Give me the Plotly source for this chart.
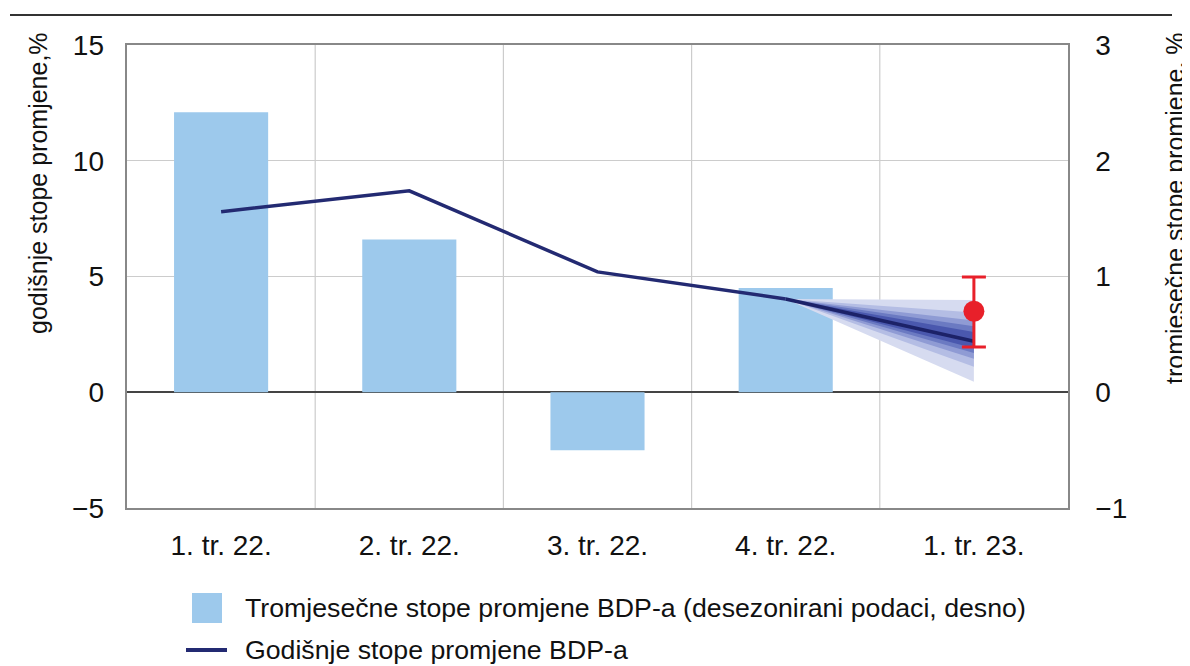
import plotly.graph_objects as go

categories = ["1. tr. 22.", "2. tr. 22.", "3. tr. 22.", "4. tr. 22.", "1. tr. 23."]
quarterly = [2.42, 1.32, -0.50, 0.90, None]          # right axis
annual = [7.8, 8.7, 5.2, 4.03]                         # left axis (realised)
annual_proj_center = [4.03, 2.2]                       # 4. tr. 22. -> 1. tr. 23.
fan_upper = [3.99, 3.45, 3.1, 2.85, 2.6]               # band upper edges at 1. tr. 23.
fan_lower = [0.45, 1.1, 1.45, 1.7, 1.9]                # band lower edges at 1. tr. 23.
fan_colors = ["#d6dbf0", "#b4bde4", "#8f9bd4", "#6b7ac2", "#4a58ae"]
point_value = 3.5
point_err_plus = 1.48
point_err_minus = 1.54
legend_labels = ["Tromjesečne stope promjene BDP-a (desezonirani podaci, desno)",
                 "Godišnje stope promjene BDP-a"]

NAVY = "#232a72"
BAR = "#9dc9ec"
FONT = "Liberation Sans, Arial"

# page body has an 8px margin: figure coordinates = page coordinates - OFF
OFF = 8
FIG_W, FIG_H = 1190 - OFF, 666 - OFF
PL, PR, PT, PB = 127 - OFF, 1068 - OFF, 45 - OFF, 508 - OFF   # plot area in figure px
W, H = PR - PL, PB - PT


def px(x):  # page x -> paper
    return (x - OFF - PL) / W


def py(y):  # page y -> paper
    return 1 - (y - OFF - PT) / H


fig = go.Figure()

# bars on primary axis (drawn underneath), shown on the right side
fig.add_trace(go.Bar(
    x=categories, y=quarterly, yaxis="y", width=0.5,
    marker=dict(color=BAR, line=dict(width=0)), showlegend=False,
))

# fan bands on the overlay (left scale)
for up, lo, col in zip(fan_upper, fan_lower, fan_colors):
    fig.add_trace(go.Scatter(
        x=[categories[3], categories[4], categories[4], categories[3]],
        y=[annual[3], up, lo, annual[3]], yaxis="y2",
        fill="toself", fillcolor=col, mode="lines", line=dict(width=0, color=col),
        showlegend=False, hoverinfo="skip",
    ))

fig.add_trace(go.Scatter(
    x=categories[:4], y=annual, mode="lines", yaxis="y2",
    line=dict(color=NAVY, width=3.5), showlegend=False,
))
fig.add_trace(go.Scatter(
    x=categories[3:5], y=annual_proj_center, mode="lines", yaxis="y2",
    line=dict(color="#1c2268", width=3.5), showlegend=False,
))

fig.add_trace(go.Scatter(
    x=[categories[4]], y=[point_value], mode="markers", yaxis="y2",
    marker=dict(color="#e8202a", size=21),
    error_y=dict(type="data", symmetric=False, array=[point_err_plus],
                 arrayminus=[point_err_minus], color="#e8202a", thickness=3, width=12),
    showlegend=False,
))

fig.update_layout(
    width=FIG_W, height=FIG_H,
    margin=dict(l=PL, r=FIG_W - PR, t=PT, b=FIG_H - PB, autoexpand=False),
    paper_bgcolor="white", plot_bgcolor="white",
    font=dict(family=FONT, size=24, color="#111"),
    showlegend=False,
    xaxis=dict(type="category", range=[-0.5, 4.5], showgrid=False,
               showline=True, linecolor="#888", linewidth=1.5, mirror=True,
               ticks="", tickfont=dict(size=28, family=FONT), ticklabelstandoff=12),
    yaxis=dict(range=[-1, 3], dtick=1, side="right", showgrid=False,
               zeroline=False, showline=True, linecolor="#888", linewidth=1.5, mirror=True,
               ticks="", tickfont=dict(size=28, family=FONT), ticklabelstandoff=20),
    yaxis2=dict(range=[-5, 15], dtick=5, overlaying="y", side="left",
                showgrid=True, gridcolor="#cccccc", gridwidth=1.2,
                zeroline=True, zerolinecolor="#444", zerolinewidth=1.8,
                ticks="", tickfont=dict(size=28, family=FONT), ticklabelstandoff=22),
)

# vertical gridlines at category boundaries
for i in range(4):
    fig.add_shape(type="line", xref="x", yref="paper", x0=i + 0.5, x1=i + 0.5, y0=0, y1=1,
                  line=dict(color="#cccccc", width=1.2), layer="below")

# top rule
fig.add_shape(type="line", xref="paper", yref="paper", x0=px(10), x1=px(1172),
              y0=py(15), y1=py(15), line=dict(color="#333", width=2))

# axis titles
fig.add_annotation(text="godišnje stope promjene,%", textangle=-90, xref="paper", yref="paper",
                   x=px(38), y=py(30), xanchor="center", yanchor="top", showarrow=False,
                   font=dict(size=25, family=FONT))
fig.add_annotation(text="tromjesečne stope promjene, %", textangle=-90, xref="paper", yref="paper",
                   x=px(1175), y=py(30), xanchor="center", yanchor="top", showarrow=False,
                   font=dict(size=25, family=FONT))

# custom legend
fig.add_shape(type="rect", xref="paper", yref="paper", x0=px(192), x1=px(222),
              y0=py(593), y1=py(623), fillcolor=BAR, line=dict(width=0))
fig.add_shape(type="line", xref="paper", yref="paper", x0=px(186), x1=px(227),
              y0=py(650), y1=py(650), line=dict(color=NAVY, width=4))
fig.add_annotation(text=legend_labels[0], xref="paper", yref="paper", x=px(243), y=py(608),
                   xanchor="left", yanchor="middle", showarrow=False,
                   font=dict(size=26.7, family=FONT))
fig.add_annotation(text=legend_labels[1], xref="paper", yref="paper", x=px(243), y=py(650),
                   xanchor="left", yanchor="middle", showarrow=False,
                   font=dict(size=26.7, family=FONT))

fig.write_html("out.html")
